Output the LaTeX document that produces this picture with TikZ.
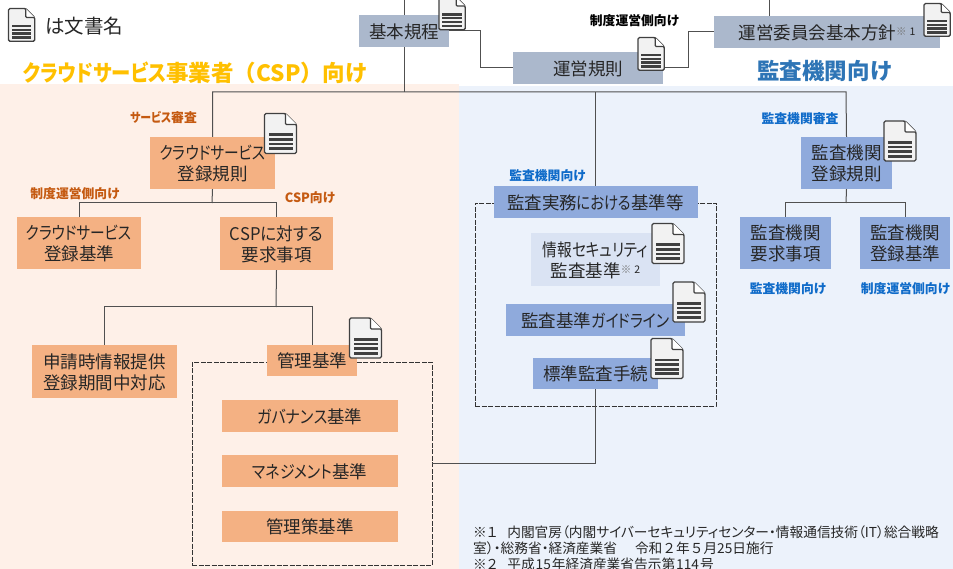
\documentclass[tikz,border=0pt]{standalone}
\usepackage{fontspec}
\setmainfont{Noto Sans CJK JP}[RawFeature=+palt]
\newfontfamily\nopalt{Noto Sans CJK JP}
\definecolor{obg}{HTML}{FEF0E8}
\definecolor{bbg}{HTML}{ECF2FB}
\definecolor{ofill}{HTML}{F4B183}
\definecolor{bfill}{HTML}{8FAADC}
\definecolor{lfill}{HTML}{DAE3F3}
\definecolor{gfill}{HTML}{ABB8CC}
\definecolor{txt}{HTML}{262626}
\definecolor{ln}{HTML}{505050}
\definecolor{ttlo}{HTML}{FFC000}
\definecolor{ttlb}{HTML}{2E75B6}
\definecolor{lblo}{HTML}{C55A11}
\definecolor{lblb}{HTML}{0F6BC9}
\tikzset{
  x=1pt,y=-1pt,
  box/.style={inner sep=0pt,text=txt,font=\fontsize{17.5}{21}\selectfont},
  obox/.style={box,fill=ofill},
  bbox/.style={box,fill=bfill},
  lbox/.style={box,fill=lfill},
  gbox/.style={box,fill=gfill},
  conn/.style={draw=ln,line width=1pt},
  dashgroup/.style={draw=black!80,line width=0.9pt,dash pattern=on 5pt off 1.5pt},
  sm/.style={inner sep=0pt,font=\fontsize{12.8}{15}\bfseries\selectfont},
  ttl/.style={inner sep=0pt,font=\fontsize{22.5}{26}\bfseries\selectfont},
  foot/.style={inner sep=0pt,anchor=west,text=txt,font=\fontsize{13.7}{16}\selectfont},
  docicon/.pic={
    \draw[fill=black!5,draw=black!75,line width=1.4pt,rounded corners=1.5pt]
      (0,0) -- (21,0) -- (32,11) -- (32,40) -- (0,40) -- cycle;
    \draw[draw=black!75,line width=1.2pt,fill=white,rounded corners=1pt] (21,0) -- (21,11) -- (32,11);
    \foreach \yy in {20,24.6,29.2,33.8}
      \fill[black!75] (4,\yy) rectangle (28,\yy+2.8);
  }
}
\newcommand{\sups}[1]{\raisebox{4pt}{\fontsize{10.5}{10}\selectfont\textcolor{black!55}{※}\hspace{3pt}#1}}
\newcommand{\kn}[2][.84]{\scalebox{#1}[1]{#2}}
\newcommand{\lo}[1]{\raisebox{-3.2pt}[\height][\depth]{\begin{tabular}{@{}c@{}}#1\end{tabular}}}
\begin{document}
\begin{tikzpicture}
\useasboundingbox (0,0) rectangle (953,569);
\clip (0,0) rectangle (953,569);
\fill[white] (0,0) rectangle (953,569);
\fill[obg] (0,84) rectangle (459,569);
\fill[bbg] (459,86) rectangle (953,569);
% dashed groups
\node[dashgroup,inner sep=0pt,minimum width=240pt,minimum height=203pt] (gO) at (312,463.5) {};
\node[dashgroup,inner sep=0pt,minimum width=241pt,minimum height=203pt] (gB) at (595.5,304.5) {};
% bus and joints
\coordinate (busL) at (212.5,92);
\coordinate (busR) at (846,92);
\coordinate (j1) at (480,50);
\coordinate (j2) at (688,50);
\coordinate (topA) at (404,0);
\coordinate (topB) at (769,0);
\coordinate (jO1) at (212,203);
\coordinate (jO2) at (276,307);
\coordinate (jB1) at (846,203);
% boxes
\node[gbox,minimum width=90pt,minimum height=32pt] (kihon) at (404,31) {\lo{基本規程}};
\node[gbox,minimum width=150pt,minimum height=32pt] (unei) at (588,68) {\lo{運営規則}};
\node[gbox,minimum width=226pt,minimum height=32pt] (iin) at (827,32) {\lo{運営委員会基本方針\sups{1}}};
\node[obox,minimum width=125pt,minimum height=52pt] (cspk) at (212.5,163) {\lo{\kn{クラウドサービス}\\登録規則}};
\node[obox,minimum width=124pt,minimum height=52pt] (cspb) at (79,243) {\lo{\kn{クラウドサービス}\\登録基準}};
\node[obox,minimum width=113pt,minimum height=53pt] (cspy) at (276.5,243.5) {\lo{\kn[.95]{CSPに対する}\\要求事項}};
\node[obox,minimum width=145pt,minimum height=53pt] (shin) at (104.5,371.5) {\lo{申請時情報提供\\登録期間中対応}};
\node[obox,minimum width=90pt,minimum height=31pt] (kanri) at (312,360.5) {\lo{管理基準}};
\node[obox,minimum width=176pt,minimum height=32pt] (gov) at (310,416) {\lo{\kn[.86]{ガバナンス}基準}};
\node[obox,minimum width=176pt,minimum height=32pt] (mng) at (310,471) {\lo{\kn[.85]{マネジメント}基準}};
\node[obox,minimum width=176pt,minimum height=31pt] (ctl) at (310,526.5) {\lo{管理策基準}};
\node[bbox,minimum width=204pt,minimum height=32pt] (jitsu) at (595.5,202) {\lo{監査実務\kn[.82]{における}基準等}};
\node[lbox,minimum width=129pt,minimum height=53pt] (joho) at (595.5,259.5) {\lo{\kn{情報セキュリティ}\\監査基準\sups{2}}};
\node[bbox,minimum width=179pt,minimum height=32pt] (guide) at (595.5,320) {\lo{監査基準\kn[.85]{ガイドライン}}};
\node[bbox,minimum width=125pt,minimum height=31pt] (hyo) at (595.5,373.5) {\lo{標準監査手続}};
\node[bbox,minimum width=91pt,minimum height=52pt] (kank) at (846.5,163) {\lo{監査機関\\登録規則}};
\node[bbox,minimum width=91pt,minimum height=52pt] (kany) at (785.5,243) {\lo{監査機関\\要求事項}};
\node[bbox,minimum width=90pt,minimum height=52pt] (kanb) at (905,243) {\lo{監査機関\\登録基準}};
% connectors
\draw[conn] (topA) -- (kihon.north);
\draw[conn] (topB) -- (topB|-iin.north);
\draw[conn] (kihon.south) -- (kihon.south|-busL);
\draw[conn] (cspk.north) -- (busL) -- (busR) -- (kank.north);
\draw[conn] (jitsu.north) -- (jitsu.north|-busL);
\draw[conn] (kihon.east) -- (kihon.east-|j1) -- (unei.west-|j1) -- (unei.west);
\draw[conn] (unei.east) -- (unei.east-|j2) -- (iin.west-|j2) -- (iin.west);
\draw[conn] (cspk.south) -- (jO1);
\draw[conn] (cspb.north) -- (cspb.north|-jO1) -- (cspy.north|-jO1) -- (cspy.north);
\draw[conn] (cspy.south) -- (jO2);
\draw[conn] (shin.north) -- (shin.north|-jO2) -- (kanri.north|-jO2) -- (kanri.north);
\draw[conn] (kank.south) -- (jB1);
\draw[conn] (kany.north) -- (kany.north|-jB1) -- (kanb.north|-jB1) -- (kanb.north);
\draw[conn] (hyo.south) -- (hyo.south|-gO.east) -- (gO.east);
% icons
\pic[scale=0.82] (ic0) at (8.5,8.5) {docicon};
\pic[scale=0.82] (ic1) at (439,-3) {docicon};
\pic[scale=0.82] (ic2) at (638,37.5) {docicon};
\pic[scale=0.82] (ic3) at (924,3.5) {docicon};
\pic (ic4) at (264.5,113.5) {docicon};
\pic (ic5) at (884,121) {docicon};
\pic (ic6) at (652,223.5) {docicon};
\pic (ic7) at (673,282) {docicon};
\pic (ic8) at (651,338.5) {docicon};
\pic (ic9) at (349.5,318) {docicon};
% texts
\node[inner sep=0pt,anchor=west,text=txt,font=\fontsize{19.5}{22}\selectfont] (legend) at (45,26) {は文書名};
\node[ttl,text=ttlo] (ttlO) at (195,73) {\kn[.86]{クラウドサービス}事業者{\nopalt （}CSP{\nopalt ）}向け};
\node[ttl,text=ttlb] (ttlB) at (824.5,71) {監査機関向け};
\node[sm,text=lblo] (l1) at (163.5,118) {\kn[.85]{サービス}審査};
\node[sm,text=lblo] (l2) at (75,194) {制度運営側向け};
\node[sm,text=lblo] (l3) at (310,198) {CSP向け};
\node[sm,text=black] (l4) at (634.5,20.5) {制度運営側向け};
\node[sm,text=lblb] (l5) at (800,118.5) {監査機関審査};
\node[sm,text=lblb] (l6) at (547.5,176) {監査機関向け};
\node[sm,text=lblb] (l7) at (788,289) {監査機関向け};
\node[sm,text=lblb] (l8) at (905.5,289) {制度運営側向け};
\node[foot] (f1) at (473,532) {※１\hspace{10pt}内閣官房（内閣サイバーセキュリティセンター・情報通信技術（IT）総合戦略};
\node[foot] (f2) at (473,548) {室）・総務省・経済産業省\hspace{18pt}令和{\nopalt ２}年{\nopalt ５}月25日施行};
\node[foot] (f3) at (473,564) {※２\hspace{10pt}平成\hspace{1pt}15\hspace{1pt}年経済産業省告示第\hspace{1pt}114\hspace{1pt}号};
\end{tikzpicture}
\end{document}
